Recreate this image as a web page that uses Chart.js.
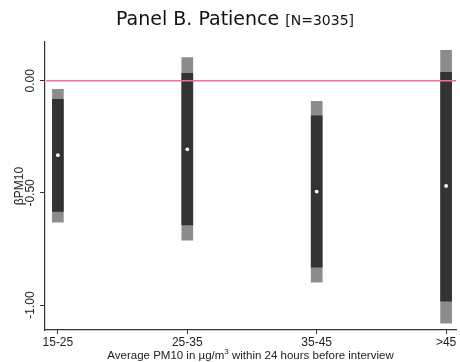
<!DOCTYPE html>
<html>
<head>
  <title>Panel B. Patience</title>
  <script src="https://cdn.jsdelivr.net/npm/chart.js"></script>
  <style>
    body { margin: 0; background: #fff; }
    canvas { display: block; }
  </style>
</head>
<body>
  <canvas id="chartCanvas" width="460" height="362"></canvas>

  <script>
    // PM10 bins and the estimated effect in each
    const categories = ["15-25", "25-35", "35-45", ">45"];
    const estimates  = [-0.332, -0.306, -0.494, -0.469];
    // inner (dark) and outer (light) confidence bands
    const innerHigh = [-0.083, 0.033, -0.156, 0.037];
    const innerLow  = [-0.583, -0.643, -0.831, -0.983];
    const outerHigh = [-0.038, 0.103, -0.092, 0.135];
    const outerLow  = [-0.631, -0.711, -0.898, -1.081];
    const yTicks = [-1, -0.5, 0];

    const sans = "'Liberation Sans', Arial, sans-serif";

    const extras = {
      id: "extras",
      beforeDraw(chart) {
        const ctx = chart.ctx;
        ctx.save();
        ctx.fillStyle = "#fff";
        ctx.fillRect(0, 0, chart.width, chart.height);
        ctx.restore();
      },
      afterDatasetsDraw(chart) {
        // zero reference line
        const ctx = chart.ctx, area = chart.chartArea;
        const y0 = chart.scales.y.getPixelForValue(0);
        ctx.save();
        ctx.strokeStyle = "#e07891";
        ctx.lineWidth = 1.6;
        ctx.beginPath();
        ctx.moveTo(area.left + 1, y0);
        ctx.lineTo(area.right, y0);
        ctx.stroke();
        ctx.restore();
      },
      afterDraw(chart) {
        const ctx = chart.ctx, area = chart.chartArea;
        const ys = chart.scales.y;
        ctx.save();

        // title
        ctx.fillStyle = "#111";
        ctx.textBaseline = "alphabetic";
        ctx.font = "19px 'DejaVu Sans'";
        const main = "Panel B. Patience ";
        const wMain = ctx.measureText(main).width;
        ctx.font = "14px 'DejaVu Sans'";
        const sub = "[N=3035]";
        const wSub = ctx.measureText(sub).width;
        let x = 235 - (wMain + wSub) / 2;
        ctx.font = "19px 'DejaVu Sans'";
        ctx.textAlign = "left";
        ctx.fillText(main, x, 25);
        ctx.font = "14px 'DejaVu Sans'";
        ctx.fillText(sub, x + wMain, 25);

        // rotated y tick labels
        ctx.fillStyle = "#222";
        ctx.font = "12px " + sans;
        ctx.textAlign = "center";
        ctx.textBaseline = "middle";
        ys.ticks.forEach(t => {
          ctx.save();
          ctx.translate(31, ys.getPixelForValue(t.value));
          ctx.rotate(-Math.PI / 2);
          ctx.fillText(t.value.toFixed(2), 0, 0);
          ctx.restore();
        });

        // y axis title
        ctx.save();
        ctx.translate(20, (area.top + area.bottom) / 2);
        ctx.rotate(-Math.PI / 2);
        ctx.fillText("\u03B2PM10", 0, 0);
        ctx.restore();

        // x axis title with superscript
        const a = "Average PM10 in \u00B5g/m", s = "3", b = " within 24 hours before interview";
        ctx.font = "11.5px " + sans;
        const wa = ctx.measureText(a).width, wb = ctx.measureText(b).width;
        ctx.font = "8px " + sans;
        const ws = ctx.measureText(s).width;
        let tx = (area.left + area.right) / 2 - (wa + ws + wb) / 2;
        const base = 359;
        ctx.textAlign = "left";
        ctx.textBaseline = "alphabetic";
        ctx.font = "11.5px " + sans;
        ctx.fillText(a, tx, base);
        ctx.font = "8px " + sans;
        ctx.fillText(s, tx + wa, base - 5);
        ctx.font = "11.5px " + sans;
        ctx.fillText(b, tx + wa + ws, base);

        ctx.restore();
      }
    };

    const idx = categories.map((c, i) => i);

    new Chart(document.getElementById("chartCanvas").getContext("2d"), {
      type: "bar",
      data: {
        datasets: [
          {
            type: "scatter",
            label: "Estimate",
            data: idx.map(i => ({ x: i, y: estimates[i] })),
            pointRadius: 1.9,
            pointBackgroundColor: "#fff",
            pointBorderWidth: 0,
            order: 0
          },
          {
            label: "Inner band",
            data: idx.map(i => ({ x: i, y: [innerLow[i], innerHigh[i]] })),
            backgroundColor: "#333333",
            barThickness: 11,
            grouped: false,
            order: 1
          },
          {
            label: "Outer band",
            data: idx.map(i => ({ x: i, y: [outerLow[i], outerHigh[i]] })),
            backgroundColor: "#8c8c8c",
            barThickness: 11,
            grouped: false,
            order: 2
          }
        ]
      },
      options: {
        responsive: false,
        animation: false,
        layout: { padding: { top: 42, right: 0, left: 0, bottom: 0 } },
        plugins: {
          legend: { display: false },
          tooltip: { enabled: false }
        },
        scales: {
          x: {
            type: "linear",
            offset: false,
            min: -0.0995,
            max: 3.0765,
            afterBuildTicks: s => { s.ticks = idx.map(i => ({ value: i })); },
            afterFit: s => { s.height = 32; },
            grid: { offset: false, drawOnChartArea: false, tickLength: 4, color: "#333" },
            border: { color: "#333", width: 1.2 },
            ticks: {
              callback: v => categories[v],
              color: "#222",
              font: { family: sans, size: 12 },
              padding: 1,
              maxRotation: 0,
              autoSkip: false
            }
          },
          y: {
            min: -1.111,
            max: 0.1725,
            afterBuildTicks: s => { s.ticks = yTicks.map(v => ({ value: v })); },
            afterFit: s => { s.width = 45; },
            grid: { drawOnChartArea: false, tickLength: 5, color: "#333" },
            border: { color: "#333", width: 1.2 },
            ticks: { display: false }
          }
        }
      },
      plugins: [extras]
    });
  </script>
</body>
</html>
